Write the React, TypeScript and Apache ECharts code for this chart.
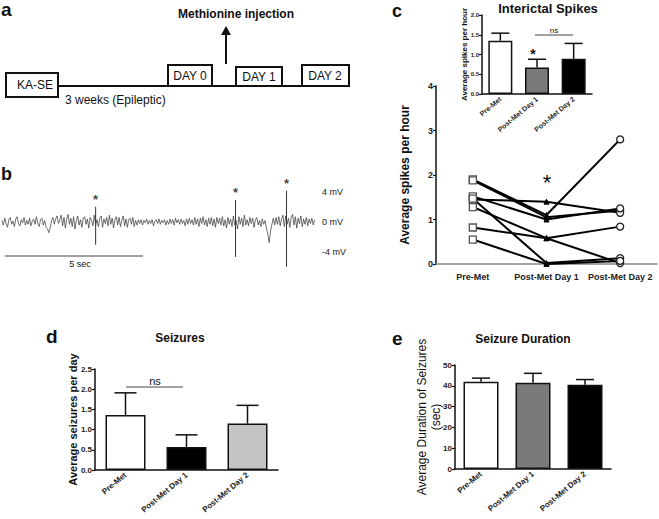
import React, { useEffect, useRef } from 'react';
import * as echarts from 'echarts';

const FONT = '"Liberation Sans", Arial, sans-serif';

const groups = ['Pre-Met', 'Post-Met Day 1', 'Post-Met Day 2'];

// Panel b: EEG trace (mV), sampled every 0.05 s
const traceStep = 0.05;
const traceValues = [
  0.2, -0.4, 0.5, -0.2, -0.7, 0.3, 0.6, -0.3, 0.1, -0.6, 0.4, 0.7, -0.2, -0.5, 0.3, -0.1, 0.6, -0.4, 0.2, -0.3,
  0.5, -0.5, 0.1, 0.4, -0.3, 0.7, -0.2, -0.6, 0.3, 0.5, -0.4, 0.2, -0.7, -0.9, -1.4, -0.8, 0.2, 0.6, -0.3, 0.4,
  0.8, -0.2, 0.3, 0.9, -0.5, 0.6, -0.8, 0.4, 1.0, -0.3, 0.5, -0.6, 0.7, -0.9, 0.2, 0.8, -0.4, 0.3, -0.7, 0.5,
  0.7, -0.3, 0.4, -0.8, 0.6, 0.2, -0.5, 0.9, -0.4, 0.3, -0.6, 0.5, 0.8, -0.7, 0.4, -0.2, 0.6, -0.5, 0.9, -0.3,
  0.5, -0.8, 0.3, 0.7, -0.4, 0.6, -0.6, 0.2, 0.8, -0.5, 0.4, -0.7, 0.3, 0.5, -0.3, 0.6, -0.6, 0.2, -0.4, 0.3,
  -0.2, 0.3, -0.4, 0.2, -0.1, 0.4, -0.3, 0.2, -0.2, 0.3, -0.5, 0.1, 0.3, -0.2, 0.4, -0.3, 0.2, -0.1, 0.3, -0.4,
  0.2, -0.3, 0.4, -0.2, 0.3, -0.4, 0.5, -0.1, 0.3, -0.3, 0.4, -0.2, 0.2, -0.5, 0.4, -0.3, 0.5, -0.2, 0.3, -0.4,
  0.6, -0.3, 0.4, -0.6, 0.5, -0.2, 0.7, -0.4, 0.3, -0.6, 0.5, -0.3, 0.6, -0.5, 0.4, -0.7, 0.6, -0.2, 0.5, -0.4,
  0.7, -0.5, 0.3, -0.8, 0.6, -0.3, 0.4, -0.6, 0.8, -0.4, 0.2, -0.9, 0.7, -0.3, 0.5, -0.6, 0.9, -0.4, 0.3, -0.5,
  0.6, -0.2, 0.5, -0.7, 0.3, 0.6, -0.4, 0.2, -0.6, 0.4, -0.3, 0.2, -0.8, -1.6, -2.7, -1.2, -0.3, 0.5, -0.4, 0.6,
  -0.3, 0.7, -0.5, 0.4, 0.9, -0.6, 0.8, -0.3, 0.5, -0.7, 0.6, 1.0, -0.4, 0.7, -0.8, 0.5, -0.2, 0.8, -0.6, 0.4,
  -0.3, 0.6, -0.5, 0.4, -0.2, 0.5, -0.4, 0.3,
];
const spikeTimes = [3.4, 8.48, 10.33];
const spikeTops = [2.0, 2.9, 4.1];
const spikeBottoms = [-3.0, -4.6, -5.9];

// Panel c inset: interictal spikes per hour
const spikeMeans = [1.35, 0.67, 0.89];
const spikeErrTops = [1.54, 0.88, 1.28];

// Panel c main: individual animals
const preMet = [1.9, 1.88, 1.45, 1.52, 1.28, 0.82, 1.47, 0.55];
const postDay1 = [1.1, 1.05, 1.4, 1.0, 0.58, 0.58, 0.02, 0.0];
const postDay2 = [2.8, 1.2, 1.15, 1.25, 0.02, 0.84, 0.13, 0.07];

// Panel d: seizures per day
const seizureMeans = [1.36, 0.57, 1.15];
const seizureErrTops = [1.91, 0.87, 1.6];

// Panel e: seizure duration (sec)
const durationMeans = [42, 41.5, 40.5];
const durationErrTops = [43.7, 46, 43];

const errRender = (capHalf: number) => (params: any, api: any) => {
  const i = api.value(0);
  const base = api.coord([i, api.value(1)]);
  const top = api.coord([i, api.value(2)]);
  const style = { stroke: '#111', lineWidth: 1.5 };
  return {
    type: 'group',
    children: [
      { type: 'line', shape: { x1: base[0], y1: base[1], x2: top[0], y2: top[1] }, style },
      { type: 'line', shape: { x1: top[0] - capHalf, y1: top[1], x2: top[0] + capHalf, y2: top[1] }, style },
    ],
  };
};

const barPanel = (gi: number, means: number[], errs: number[], colors: string[], barWidth: number, capHalf: number) => [
  {
    type: 'bar', xAxisIndex: gi, yAxisIndex: gi, barWidth, z: 2,
    data: means.map((v, i) => ({ value: v, itemStyle: { color: colors[i], borderColor: '#111', borderWidth: 1.5 } })),
  },
  {
    type: 'custom', xAxisIndex: gi, yAxisIndex: gi, z: 3,
    renderItem: errRender(capHalf),
    data: means.map((v, i) => [i, v, errs[i]]),
  },
];

const catAxis = (gi: number, fontSize: number, rotate: number, lineColor = '#111', margin = 4) => ({
  type: 'category', gridIndex: gi, data: groups,
  axisLine: { lineStyle: { color: lineColor, width: 1.5 } },
  axisTick: { show: false },
  axisLabel: { rotate, fontSize, fontWeight: 'bold', color: '#222', fontFamily: FONT, margin, interval: 0, hideOverlap: false },
});

const valAxis = (gi: number, min: number, max: number, interval: number, fontSize: number, digits: number,
  name: string, nameFont: number, nameGap: number, nameWeight: string) => ({
  type: 'value', gridIndex: gi, min, max, interval, name, nameLocation: 'middle', nameRotate: 90, nameGap,
  nameMoveOverlap: false,
  nameTextStyle: { fontSize: nameFont, fontWeight: nameWeight, color: '#111', fontFamily: FONT, lineHeight: nameFont + 2 },
  axisLine: { show: true, lineStyle: { color: '#111', width: 1.5 } },
  axisTick: { show: true, length: 3, lineStyle: { color: '#111', width: 1.2 } },
  splitLine: { show: false },
  axisLabel: { fontSize, fontWeight: 'bold', color: '#222', fontFamily: FONT, margin: 3, formatter: (v: number) => v.toFixed(digits) },
});

const txt = (text: string, x: number, y: number, size: number, weight = 'normal', align = 'center') => ({
  type: 'text', z: 100, x, y,
  style: { text, fill: '#111', font: `${weight} ${size}px ${FONT}`, textAlign: align, textVerticalAlign: 'middle' },
});
const ln = (x1: number, y1: number, x2: number, y2: number, w = 2, c = '#111') => ({
  type: 'line', z: 90, shape: { x1, y1, x2, y2 }, style: { stroke: c, lineWidth: w },
});
const box = (x: number, y: number, width: number, height: number) => ({
  type: 'rect', z: 95, shape: { x, y, width, height }, style: { fill: '#fff', stroke: '#111', lineWidth: 2 },
});

export default function App() {
  const ref = useRef<HTMLDivElement>(null);
  useEffect(() => {
    if (!ref.current) return;
    const chart = echarts.init(ref.current, undefined, { renderer: 'svg' });

    const gridBase = { containLabel: false, outerBoundsMode: 'none', show: false };

    const lineSeries = preMet.map((v, k) => ({
      type: 'line', xAxisIndex: 2, yAxisIndex: 2, z: 5,
      lineStyle: { color: '#000', width: 2 },
      showAllSymbol: true,
      data: [
        { value: preMet[k], symbol: 'rect', symbolSize: 7, itemStyle: { color: '#fff', borderColor: '#555', borderWidth: 1.3 } },
        { value: postDay1[k], symbol: 'triangle', symbolSize: 5, itemStyle: { color: '#000', borderColor: '#000', borderWidth: 1 } },
        { value: postDay2[k], symbol: 'circle', symbolSize: 7, itemStyle: { color: '#fff', borderColor: '#222', borderWidth: 1.3 } },
      ],
    }));

    const option: any = {
      animation: false,
      backgroundColor: '#fff',
      textStyle: { fontFamily: FONT },
      grid: [
        { ...gridBase, left: 2, top: 161.2, width: 314, height: 121.6 },
        { ...gridBase, left: 482, top: 15, width: 110, height: 79 },
        { ...gridBase, left: 436, top: 86, width: 221, height: 178 },
        { ...gridBase, left: 95, top: 369, width: 183, height: 101 },
        { ...gridBase, left: 455, top: 365, width: 156, height: 104 },
      ],
      xAxis: [
        { type: 'value', gridIndex: 0, min: 0, max: 11.4, show: false },
        catAxis(1, 7, 40),
        catAxis(2, 9, 0, '#888', 8),
        catAxis(3, 8, 40),
        catAxis(4, 8, 40),
      ],
      yAxis: [
        {
          type: 'value', gridIndex: 0, min: -8, max: 8, interval: 4, position: 'right',
          axisLine: { show: false }, axisTick: { show: false }, splitLine: { show: false },
          axisLabel: { fontSize: 9, color: '#222', fontFamily: FONT, margin: 6,
            formatter: (v: number) => (Math.abs(v) === 8 ? '' : `${v} mV`) },
        },
        valAxis(1, 0, 2, 0.5, 6, 1, 'Average spikes per hour', 8, 13, 'bold'),
        valAxis(2, 0, 4, 1, 9, 0, 'Average spikes per hour', 12, 24, 'bold'),
        valAxis(3, 0, 2.5, 0.5, 8, 1, 'Average seizures per day', 11, 16, 'bold'),
        valAxis(4, 0, 50, 10, 8, 0, 'Average Duration of Seizures\n(sec)', 12, 12, 'normal'),
      ],
      series: [
        {
          type: 'line', xAxisIndex: 0, yAxisIndex: 0, symbol: 'none',
          lineStyle: { color: '#333', width: 0.7 },
          data: traceValues.map((v, i) => [i * traceStep, v]),
        },
        ...spikeTimes.map((t, i) => ({
          type: 'line', xAxisIndex: 0, yAxisIndex: 0, symbol: 'none',
          lineStyle: { color: '#333', width: 1 },
          data: [[t, spikeTops[i]], [t, spikeBottoms[i]]],
        })),
        {
          type: 'scatter', xAxisIndex: 0, yAxisIndex: 0, symbolSize: 1,
          itemStyle: { color: 'rgba(0,0,0,0)' },
          label: { show: true, position: 'top', distance: 0, formatter: '*', fontSize: 13, fontWeight: 'bold', color: '#111' },
          data: spikeTimes.map((t, i) => [t, spikeTops[i]]),
        },
        ...barPanel(1, spikeMeans, spikeErrTops, ['#fff', '#7a7a7a', '#000'], 24, 9),
        ...lineSeries,
        ...barPanel(3, seizureMeans, seizureErrTops, ['#fff', '#000', '#c4c4c4'], 40, 11),
        ...barPanel(4, durationMeans, durationErrTops, ['#fff', '#7a7a7a', '#000'], 35, 9),
      ],
      graphic: [
        // panel a
        txt('a', 1, 9, 19, 'bold', 'left'),
        txt('Methionine injection', 236, 14, 12, 'bold'),
        ln(226, 64, 226, 34, 2),
        { type: 'polygon', z: 90, shape: { points: [[221, 35], [231, 35], [226, 26]] }, style: { fill: '#111' } },
        ln(58, 86, 302, 86, 2),
        box(6, 73, 52, 24),
        txt('KA-SE', 35, 85, 12),
        box(168, 65, 44, 21),
        txt('DAY 0', 190, 76, 12),
        box(236, 67, 46, 19),
        txt('DAY 1', 259, 77, 12),
        box(302, 65, 47, 21),
        txt('DAY 2', 325, 76, 12),
        txt('3 weeks (Epileptic)', 65, 100, 12, 'normal', 'left'),
        // panel b
        txt('b', 1, 174, 18, 'bold', 'left'),
        ln(5, 256, 143, 256, 1, '#444'),
        txt('5 sec', 80, 264, 9),
        // panel c
        txt('c', 392, 11, 18, 'bold', 'left'),
        txt('Interictal Spikes', 548, 8, 13, 'bold'),
        txt('*', 533, 54, 14, 'bold'),
        ln(535, 35, 573, 35, 1, '#444'),
        txt('ns', 554, 30, 8),
        txt('*', 547, 182, 22),
        // panel d
        txt('d', 46, 336, 19, 'bold', 'left'),
        txt('Seizures', 180, 338, 12, 'bold'),
        ln(126, 387, 183, 387, 1, '#444'),
        txt('ns', 155, 381, 11),
        // panel e
        txt('e', 392, 338, 19, 'bold', 'left'),
        txt('Seizure Duration', 523, 339, 12, 'bold'),
      ],
    };
    chart.setOption(option);
    return () => chart.dispose();
  }, []);
  return <div ref={ref} style={{ position: 'absolute', left: 0, top: 0, width: 659, height: 519 }} />;
}
